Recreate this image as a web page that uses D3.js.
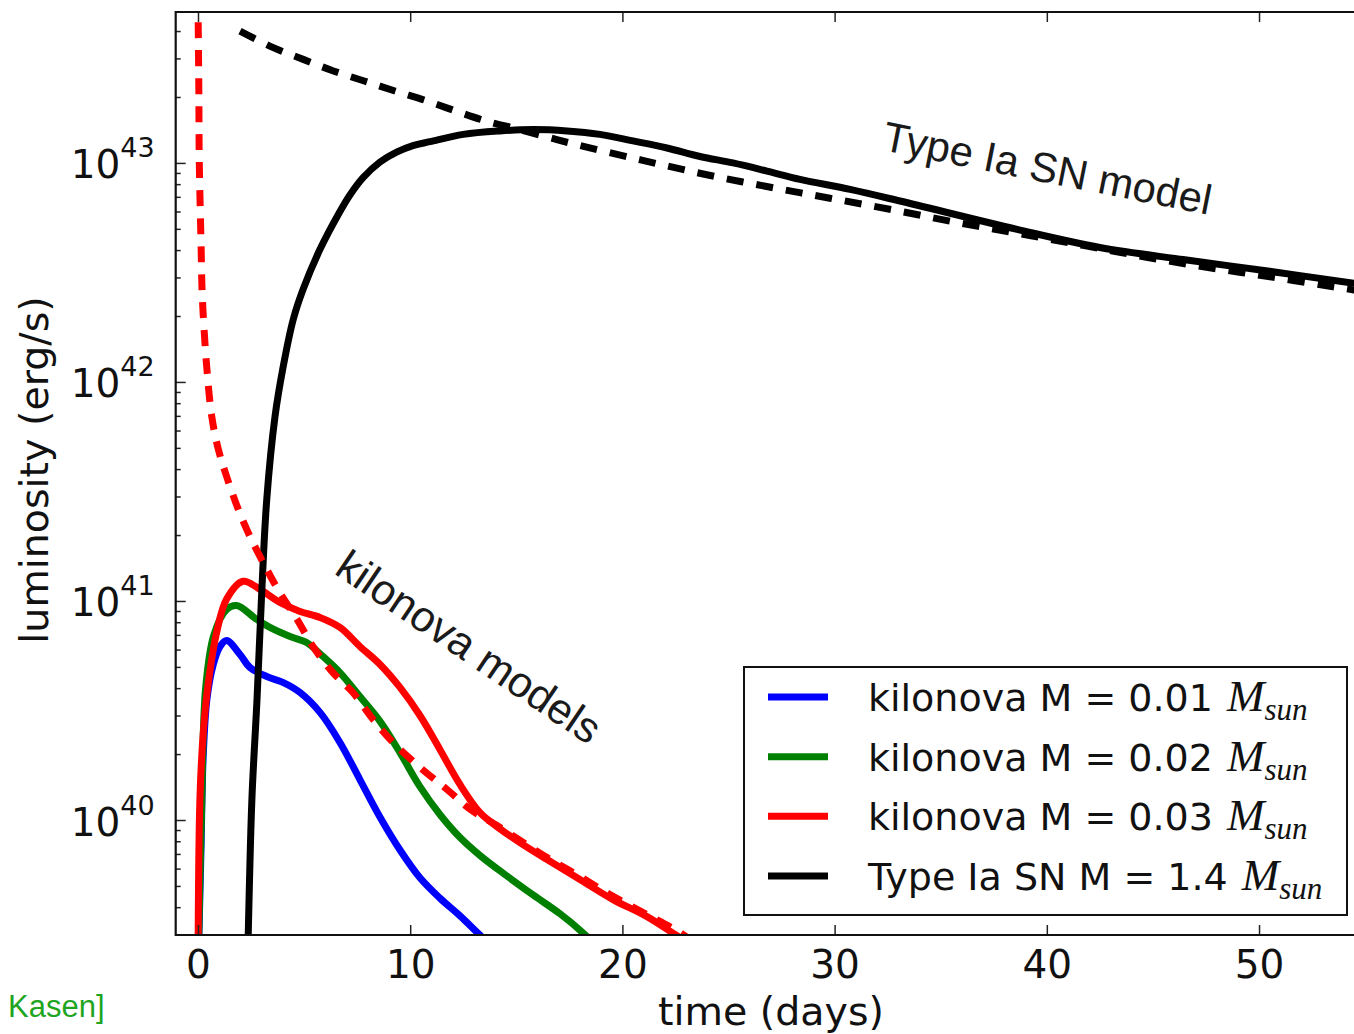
<!DOCTYPE html>
<html>
<head>
<meta charset="utf-8">
<script src="https://cdn.jsdelivr.net/npm/d3@7"></script>
<style>
  html, body { margin: 0; padding: 0; background: #fff; }
  svg { display: block; }
</style>
</head>
<body>
<svg id="chart" width="1354" height="1034"></svg>
<script>
// ---- light curves: time since merger / explosion (days) and luminosity (erg/s) ----
const kn001Time = [0, 0.14, 0.24, 0.42, 0.72, 1.04, 1.35, 1.98, 2.45, 3.24, 4.0, 4.81, 5.75, 6.69, 7.63, 8.58, 9.52, 10.46, 11.40, 12.35, 13.15, 13.76];
const kn001Lum  = [2.0e39, 7.2e39, 1.89e40, 3.55e40, 5.13e40, 6.2e40, 6.6e40, 5.7e40, 4.97e40, 4.52e40, 4.25e40, 3.82e40, 3.1e40, 2.26e40, 1.53e40, 1.03e40, 7.3e39, 5.45e39, 4.4e39, 3.65e39, 3.07e39, 2.7e39];

const kn002Time = [0, 0.17, 0.36, 0.75, 1.35, 1.82, 2.77, 3.39, 4.34, 5.12, 5.89, 6.69, 7.63, 8.58, 9.52, 10.46, 11.40, 12.35, 13.29, 14.56, 15.79, 17.06, 18.10, 18.7];
const kn002Lum  = [2.0e39, 1.1e40, 4.0e40, 7.0e40, 9.15e40, 9.53e40, 8.24e40, 7.57e40, 6.88e40, 6.46e40, 5.58e40, 4.71e40, 3.66e40, 2.82e40, 2.03e40, 1.42e40, 1.06e40, 8.32e39, 6.89e39, 5.55e39, 4.55e39, 3.73e39, 3.08e39, 2.7e39];

const kn003Time = [0, 0.09, 0.25, 0.49, 0.88, 1.35, 2.12, 2.92, 3.86, 4.81, 5.75, 6.69, 7.63, 8.58, 9.52, 10.46, 11.40, 12.35, 13.29, 14.09, 15.17, 16.45, 18.0, 19.56, 21.16, 22.48, 23.19];
const kn003Lum  = [2.0e39, 1.24e40, 2.51e40, 4.25e40, 7.18e40, 1.02e41, 1.23e41, 1.13e41, 9.85e40, 8.96e40, 8.41e40, 7.57e40, 6.2e40, 5.13e40, 4.03e40, 3.0e40, 2.1e40, 1.45e40, 1.08e40, 9.33e39, 7.89e39, 6.6e39, 5.35e39, 4.33e39, 3.62e39, 3.0e39, 2.7e39];

// radioactive heating rate for the 0.03 Msun kilonova (dashed)
const kn003HeatTime = [0.01, 0.04, 0.06, 0.15, 0.19, 0.25, 0.41, 0.65, 0.96, 1.35, 1.90, 2.45, 3.25, 3.86, 4.67, 5.42, 6.36, 7.30, 8.25, 9.19, 10.46, 11.73, 12.82, 14.09, 16.45, 18.0, 19.56, 21.16, 22.72, 23.5];
const kn003HeatLum  = [4.39e43, 2.17e43, 1.04e43, 4.03e42, 2.65e42, 2.0e42, 1.18e42, 6.95e41, 4.92e41, 3.70e41, 2.62e41, 1.97e41, 1.39e41, 1.09e41, 8.24e40, 6.2e40, 4.71e40, 3.82e40, 2.88e40, 2.26e40, 1.74e40, 1.38e40, 1.12e40, 9.44e39, 6.74e39, 5.52e39, 4.48e39, 3.7e39, 3.06e39, 2.7e39];

const snIaTime = [2.33, 2.37, 2.54, 2.78, 2.99, 3.24, 3.63, 4.02, 4.49, 4.95, 5.75, 6.69, 7.16, 7.79, 8.58, 9.36, 10.13, 10.93, 12.50, 14.23, 15.79, 17.39, 18.94, 20.5, 22.1, 23.66, 25.21, 26.81, 28.37, 30.73, 33.08, 38.6, 42.5, 46.42, 50.5, 54.48, 56];
const snIaLum  = [2.0e39, 3.06e39, 1.24e40, 3.53e40, 1.02e41, 2.9e41, 6.95e41, 1.18e42, 1.93e42, 2.64e42, 4.03e42, 6.0e42, 7.14e42, 8.59e42, 1.01e43, 1.12e43, 1.20e43, 1.25e43, 1.35e43, 1.40e43, 1.42e43, 1.40e43, 1.35e43, 1.26e43, 1.17e43, 1.07e43, 1.0e43, 9.18e42, 8.41e42, 7.57e42, 6.7e42, 4.97e42, 4.11e42, 3.62e42, 3.2e42, 2.82e42, 2.7e42];

// Ni56 -> Co56 -> Fe56 decay power (dashed)
const snIaHeatTime = [1.98, 3.55, 4.96, 6.38, 7.87, 9.28, 10.78, 12.19, 13.60, 15.02, 16.49, 18.0, 20.91, 23.81, 26.8, 29.78, 32.77, 35.75, 38.74, 41.71, 44.63, 47.6, 50.52, 53.49, 56];
const snIaHeatLum  = [4.0e43, 3.36e43, 2.97e43, 2.63e43, 2.36e43, 2.13e43, 1.92e43, 1.72e43, 1.55e43, 1.43e43, 1.31e43, 1.20e43, 1.03e43, 8.9e42, 7.8e42, 6.9e42, 6.1e42, 5.35e42, 4.75e42, 4.2e42, 3.72e42, 3.33e42, 3.02e42, 2.72e42, 2.5e42];

// ---- axes ----
const xTicks = [0, 10, 20, 30, 40, 50];
const yTickExponents = [40, 41, 42, 43];

// ---- legend ----
const legendLabels = ["kilonova M = 0.01", "kilonova M = 0.02", "kilonova M = 0.03", "Type Ia SN M = 1.4"];
const legendColors = ["#0000ff", "#008000", "#ff0000", "#000000"];

// ---- layout ----
const svg = d3.select("#chart");
const plotLeft = 175.7, plotTop = 12, plotBottom = 935;

const x = d3.scaleLinear().domain([-1.05, 56.2]).range([plotLeft, 1390.6]);
const y = d3.scaleLog().domain([Math.pow(10, 39.475), Math.pow(10, 43.689)]).range([plotBottom, plotTop]);

svg.append("defs").append("clipPath").attr("id", "plot-clip")
  .append("rect").attr("x", plotLeft).attr("y", plotTop)
  .attr("width", 1400 - plotLeft).attr("height", plotBottom - plotTop);

const line = d3.line()
  .x(d => x(d[0]))
  .y(d => y(d[1]))
  .curve(d3.curveCatmullRom.alpha(0.5));

const zip = (t, l) => t.map((v, i) => [v, l[i]]);

const curves = [
  { t: kn001Time, l: kn001Lum, color: "#0000ff", dash: null },
  { t: kn002Time, l: kn002Lum, color: "#008000", dash: null },
  { t: kn003Time, l: kn003Lum, color: "#ff0000", dash: null },
  { t: snIaTime, l: snIaLum, color: "#000000", dash: null },
  { t: snIaHeatTime, l: snIaHeatLum, color: "#000000", dash: "17,13" },
  { t: kn003HeatTime, l: kn003HeatLum, color: "#ff0000", dash: "16,12" }
];

const plot = svg.append("g").attr("clip-path", "url(#plot-clip)");
curves.forEach(c => {
  plot.append("path")
    .datum(zip(c.t, c.l))
    .attr("d", line)
    .attr("fill", "none")
    .attr("stroke", c.color)
    .attr("stroke-width", 7)
    .attr("stroke-linejoin", "round")
    .attr("stroke-linecap", "butt")
    .attr("stroke-dasharray", c.dash);
});

// ---- tick marks (pointing inward) ----
const tickStyle = g => {
  g.select(".domain").remove();
  g.selectAll(".tick line").attr("stroke", "#222").attr("stroke-width", 1.5);
};

const xBottom = svg.append("g").attr("transform", `translate(0,${plotBottom})`)
  .call(d3.axisBottom(x).tickValues(xTicks).tickSize(-10).tickFormat(d3.format("d")))
  .call(tickStyle);
xBottom.selectAll(".tick text")
  .attr("y", 43).attr("dy", null)
  .attr("fill", "#111")
  .style("font-family", "'DejaVu Sans', sans-serif")
  .style("font-size", "39px");

svg.append("g").attr("transform", `translate(0,${plotTop})`)
  .call(d3.axisTop(x).tickValues(xTicks).tickSize(-10).tickFormat(""))
  .call(tickStyle);

const majorY = yTickExponents.map(e => Math.pow(10, e));
const minorY = [];
for (let e = 39; e <= 43; e++) {
  for (let m = 2; m <= 9; m++) {
    const v = m * Math.pow(10, e);
    if (v > y.domain()[0] && v < y.domain()[1]) minorY.push(v);
  }
}

const yMajor = svg.append("g").attr("transform", `translate(${plotLeft},0)`)
  .call(d3.axisLeft(y).tickValues(majorY).tickSize(-10).tickFormat(""))
  .call(tickStyle);
svg.append("g").attr("transform", `translate(${plotLeft},0)`)
  .call(d3.axisLeft(y).tickValues(minorY).tickSize(-5).tickFormat(""))
  .call(tickStyle);

// 10^n labels with raised exponent
yMajor.selectAll(".tick").each(function (d) {
  const t = d3.select(this).append("text")
    .attr("x", -21).attr("y", 15)
    .attr("text-anchor", "end")
    .attr("fill", "#111")
    .style("font-family", "'DejaVu Sans', sans-serif")
    .style("font-size", "39px");
  t.append("tspan").text("10");
  t.append("tspan").attr("dy", -21).style("font-size", "27px")
    .text(Math.round(Math.log10(d)));
});

// ---- frame (right side runs off the canvas) ----
const frame = svg.append("g").attr("stroke", "#111").attr("stroke-width", 2.2).attr("fill", "none");
frame.append("line").attr("x1", plotLeft).attr("x2", plotLeft).attr("y1", plotTop - 1).attr("y2", plotBottom + 1);
frame.append("line").attr("x1", plotLeft).attr("x2", 1360).attr("y1", plotTop).attr("y2", plotTop);
frame.append("line").attr("x1", plotLeft).attr("x2", 1360).attr("y1", plotBottom).attr("y2", plotBottom);

// ---- axis titles ----
svg.append("text")
  .attr("x", 771).attr("y", 1025)
  .attr("text-anchor", "middle")
  .attr("fill", "#111")
  .style("font-family", "'DejaVu Sans', sans-serif")
  .style("font-size", "39.5px")
  .text("time (days)");

svg.append("text")
  .attr("transform", "translate(48,470) rotate(-90)")
  .attr("text-anchor", "middle")
  .attr("fill", "#111")
  .style("font-family", "'DejaVu Sans', sans-serif")
  .style("font-size", "39.5px")
  .text("luminosity (erg/s)");

// ---- curve annotations ----
svg.append("text")
  .attr("transform", "translate(881,150) rotate(11.2)")
  .attr("fill", "#1a1a1a")
  .style("font-family", "'Liberation Sans', Arial, sans-serif")
  .style("font-size", "42px")
  .text("Type Ia SN model");

svg.append("text")
  .attr("transform", "translate(333,573) rotate(34)")
  .attr("fill", "#1a1a1a")
  .style("font-family", "'Liberation Sans', Arial, sans-serif")
  .style("font-size", "43px")
  .text("kilonova models");

// ---- legend ----
const legend = svg.append("g");
legend.append("rect")
  .attr("x", 744).attr("y", 667).attr("width", 603).attr("height", 248)
  .attr("fill", "#fff").attr("stroke", "#111").attr("stroke-width", 2);

const rowY = d3.scaleLinear().domain([0, 3]).range([697, 876]);
legendLabels.forEach((lab, i) => {
  const cy = rowY(i);
  legend.append("line")
    .attr("x1", 768).attr("x2", 828).attr("y1", cy).attr("y2", cy)
    .attr("stroke", legendColors[i]).attr("stroke-width", 7);
  const t = legend.append("text")
    .attr("x", 868).attr("y", cy + 14)
    .attr("fill", "#111")
    .style("font-family", "'DejaVu Sans', sans-serif")
    .style("font-size", "38px");
  t.append("tspan").text(lab);
  t.append("tspan").attr("dx", 14)
    .style("font-family", "'Liberation Serif', 'DejaVu Serif', serif")
    .style("font-style", "italic")
    .style("font-size", "45px")
    .text("M");
  t.append("tspan").attr("dy", 9)
    .style("font-family", "'Liberation Serif', 'DejaVu Serif', serif")
    .style("font-style", "italic")
    .style("font-size", "31px")
    .text("sun");
});

// ---- source credit ----
svg.append("text")
  .attr("x", 8).attr("y", 1017)
  .attr("fill", "#1fa51f")
  .style("font-family", "'Liberation Sans', Arial, sans-serif")
  .style("font-size", "31px")
  .text("Kasen]");
</script>
</body>
</html>
